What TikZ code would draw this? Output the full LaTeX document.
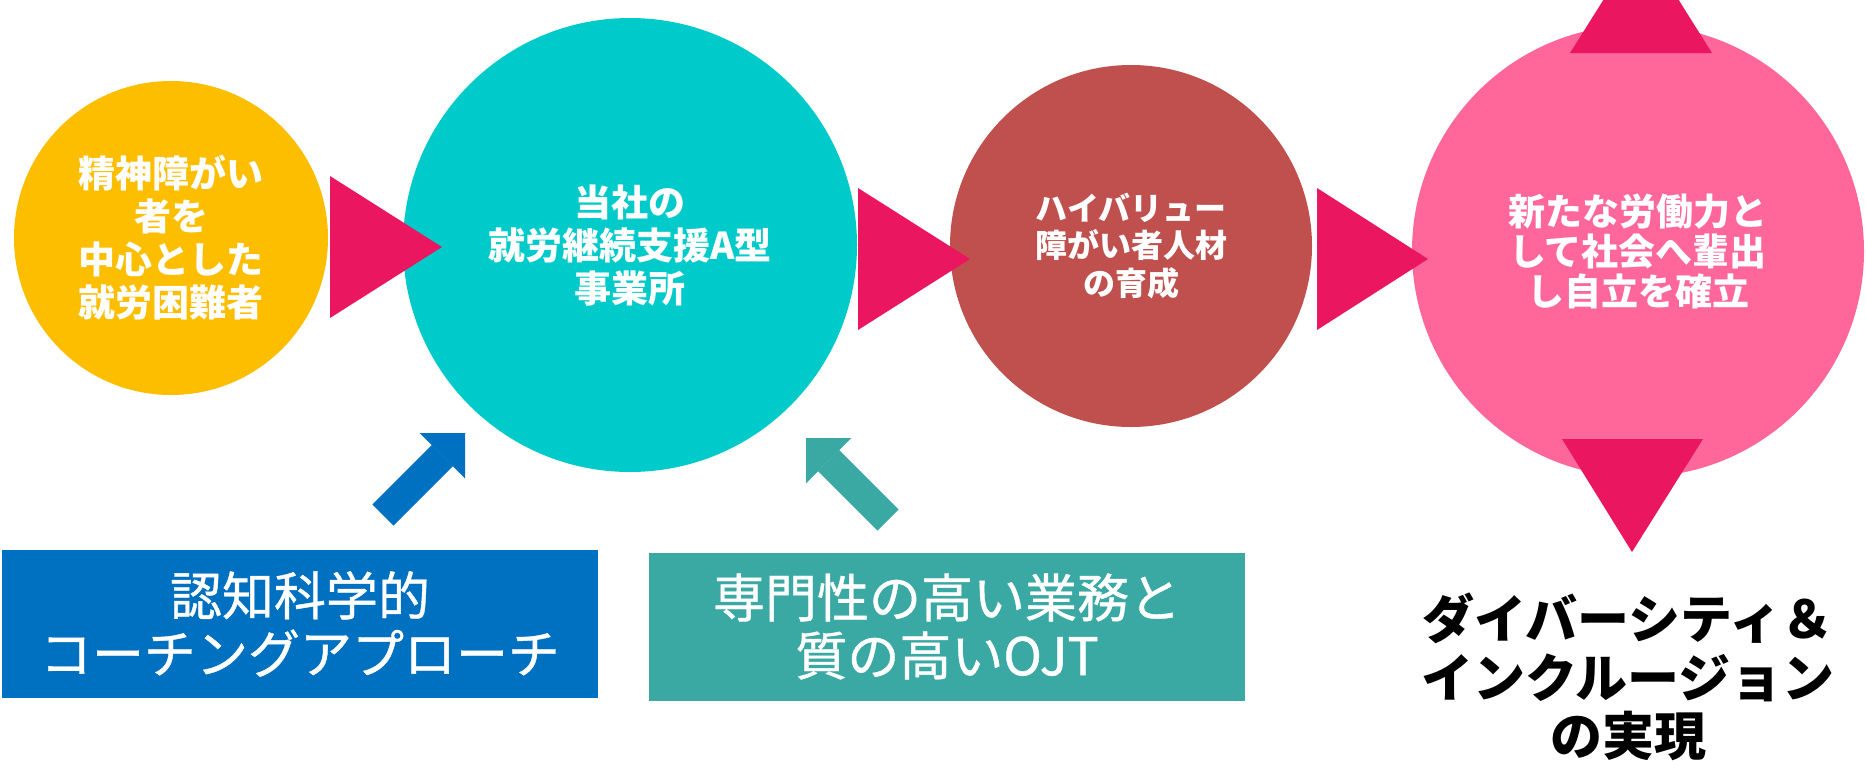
\documentclass[tikz,border=0pt]{standalone}
\usepackage{fontspec}
\setmainfont{Noto Sans CJK JP}
\newfontfamily\boxfont{Noto Sans CJK JP}[FakeBold=0.8]
\usetikzlibrary{arrows.meta}
\definecolor{cyel}{HTML}{FDBE00}
\definecolor{cteal}{HTML}{00CACA}
\definecolor{cbrown}{HTML}{C0504D}
\definecolor{cpink}{HTML}{FF6699}
\definecolor{ctri}{HTML}{EB1660}
\definecolor{cblue}{HTML}{0070C0}
\definecolor{cgreen}{HTML}{3AA9A4}
\begin{document}
\begin{tikzpicture}[x=1pt,y=-1pt,
  circnode/.style={circle, inner sep=0pt, text=white, align=center,
    font=\bfseries\fontsize{37}{43}\selectfont},
  tristyle/.style={fill=ctri},
  labelbox/.style={rectangle, inner sep=0pt, minimum width=596pt,
    minimum height=148pt, text=white, align=center,
    font=\boxfont\fontsize{52}{58}\selectfont},
  blockarrow/.style={line width=30pt,
    -{Triangle[length=32pt,width=64pt,line width=0pt]}}
]
\clip (0,0) rectangle (1866,769);
\fill[white] (0,0) rectangle (1866,769);

% circles
\node[circnode, fill=cyel, minimum size=314pt] (n1) at (171,238)
  {精神障がい\\者を\\中心とした\\就労困難者};
\node[circnode, fill=cteal, minimum size=454pt] (n2) at (630,245)
  {当社の\\就労継続支援A型\\事業所};
\node[circnode, fill=cbrown, minimum size=362pt,
  font=\bfseries\fontsize{32}{37.5}\selectfont] (n3) at (1131,246)
  {ハイバリュー\\障がい者人材\\の育成};
\node[circnode, fill=cpink, minimum size=452pt,
  font=\bfseries\fontsize{37}{40}\selectfont] (n4) at (1638,251)
  {新たな労働力と\\して社会へ輩出\\し自立を確立};

% triangles between circles
\fill[tristyle] (330,176) -- (330,318) -- (442,247) -- cycle;
\fill[tristyle] (858,188) -- (858,330) -- (970,259) -- cycle;
\fill[tristyle] (1317,188) -- (1317,330) -- (1428,259) -- cycle;
\fill[tristyle] (1570,53) -- (1712,53) -- (1641,-60) -- cycle;
\fill[tristyle] (1562,439) -- (1703,439) -- (1632,552) -- cycle;

% boxes
\node[labelbox, fill=cblue] (b1) at (300,624)
  {認知科学的\\コーチングアプローチ};
\node[labelbox, fill=cgreen] (b2) at (947,626.5)
  {専門性の高い業務と\\質の高いOJT};

% block arrows
\coordinate (a1s) at (383,515);
\coordinate (a1e) at (465,433);
\draw[blockarrow, cblue] (a1s) -- (a1e);
\coordinate (a2s) at (888,520);
\coordinate (a2e) at (806,438);
\draw[blockarrow, cgreen] (a2s) -- (a2e);

% goal text
\node[font=\bfseries\fontsize{52}{58.5}\selectfont, align=center,
  inner sep=0pt] (goal) at (1628,677)
  {ダイバーシティ＆\\インクルージョン\\の実現};
\end{tikzpicture}
\end{document}
